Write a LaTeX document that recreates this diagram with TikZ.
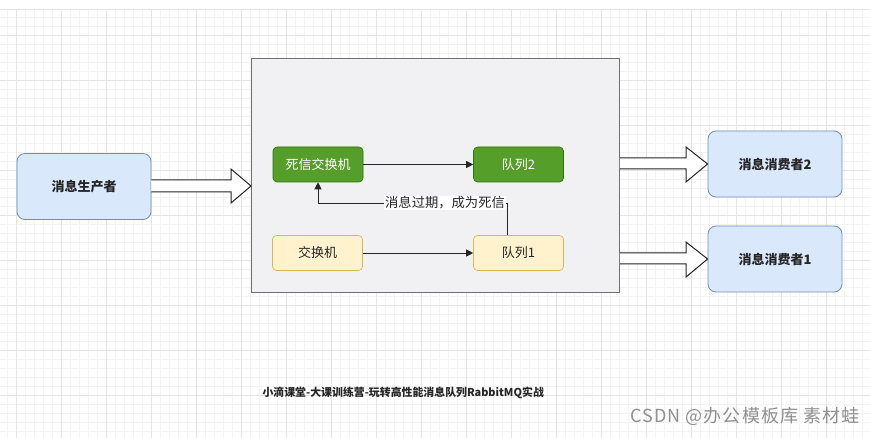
\documentclass[tikz,border=0pt]{standalone}
\usepackage{fontspec}
\setmainfont{Noto Sans CJK SC}
\usetikzlibrary{arrows.meta}
\definecolor{gridminor}{HTML}{F3F3F3}
\definecolor{gridmajor}{HTML}{E5E5E5}
\definecolor{bluefill}{HTML}{DAE8FC}
\definecolor{bluedraw}{HTML}{6C8EBF}
\definecolor{greenfill}{HTML}{559E29}
\definecolor{greendraw}{HTML}{2D7600}
\definecolor{yellowfill}{HTML}{FFF2CC}
\definecolor{yellowdraw}{HTML}{D6B656}
\definecolor{contfill}{HTML}{F1F0F2}
\definecolor{contdraw}{HTML}{707070}
\definecolor{wmgray}{HTML}{909090}
\tikzset{
  bluebox/.style={draw=bluedraw, fill=bluefill, rounded corners=8pt, line width=0.8pt, minimum width=134pt, minimum height=66pt, font=\fontsize{13}{15}\selectfont\bfseries, text=black!85},
  greenbox/.style={draw=greendraw, fill=greenfill, rounded corners=4pt, line width=0.6pt, minimum width=90pt, minimum height=35pt, font=\fontsize{13}{15}\selectfont, text=white},
  yellowbox/.style={draw=yellowdraw, fill=yellowfill, rounded corners=4pt, line width=0.6pt, minimum width=90pt, minimum height=35pt, font=\fontsize{13}{15}\selectfont, text=black!85},
  conn/.style={draw=black!85, line width=0.9pt, -{Triangle[length=7pt,width=7pt]}},
  hollow/.style={draw=black!85, fill=white, line width=1pt, line join=miter},
}
\begin{document}
\begin{tikzpicture}[x=1pt,y=-1pt]
\useasboundingbox (0,0) rectangle (870,438);
\fill[white] (0,0) rectangle (870,438);
% grid
\foreach \gx in {7,16,...,870} {\draw[gridminor, line width=0.5pt] (\gx,9) -- (\gx,438);}
\foreach \gy in {17,26,...,438} {\draw[gridminor, line width=0.5pt] (0,\gy) -- (870,\gy);}
\foreach \gx in {16,61,...,870} {\draw[gridmajor, line width=0.7pt] (\gx,9) -- (\gx,438);}
\foreach \gy in {35,80,...,438} {\draw[gridmajor, line width=0.7pt] (0,\gy) -- (870,\gy);}
\draw[gridmajor, line width=0.7pt] (0,9) -- (870,9);

% container
\node[draw=contdraw, fill=contfill, line width=0.9pt, minimum width=368pt, minimum height=234pt, anchor=north west, inner sep=0pt] (cont) at (251,58) {};

% nodes
\node[bluebox] (prod) at (84,186.5) {消息生产者};
\node[bluebox] (cons2) at (775,164) {消息消费者2};
\node[bluebox] (cons1) at (775,259) {消息消费者1};
\node[greenbox] (dlx) at (318,164.5) {死信交换机};
\node[greenbox] (q2) at (518.5,164.5) {队列2};
\node[yellowbox] (ex) at (317.5,253) {交换机};
\node[yellowbox] (q1) at (518.5,253) {队列1};

% connectors
\draw[conn] (dlx.east) -- (q2.west);
\draw[conn] (ex.east) -- (q1.west);
\coordinate (bendR) at (507,203);
\coordinate (bendL) at (318,203);
\draw[conn] (q1.north -| bendR) -- (bendR) -- (bendL) -- (dlx.south);
\node[fill=white, inner sep=1pt, font=\fontsize{13.3}{15}\selectfont, text=black!85] (lbl) at (445,203) {消息过期，成为死信};

% hollow arrows
\draw[hollow] (prod.east |- 0,180) -- (231,180) -- (231,169) -- (cont.west |- 0,186) -- (231,203) -- (231,192) -- (prod.east |- 0,192);
\draw[hollow] (cont.east |- 0,158) -- (686,158) -- (686,147) -- (cons2.west) -- (686,182) -- (686,169) -- (cont.east |- 0,169);
\draw[hollow] (cont.east |- 0,253) -- (686,253) -- (686,242) -- (cons1.west) -- (686,277) -- (686,264) -- (cont.east |- 0,264);

% texts
\node[font=\fontsize{10.9}{12}\selectfont\bfseries, text=black!85, anchor=west] (title) at (259,393) {小滴课堂-大课训练营-玩转高性能消息队列RabbitMQ实战};
\node[font=\fontsize{18}{19}\selectfont\addfontfeature{LetterSpace=6}, text=wmgray, anchor=east] (wm) at (863,416) {CSDN @办公模板库 素材蛙};
\end{tikzpicture}
\end{document}
